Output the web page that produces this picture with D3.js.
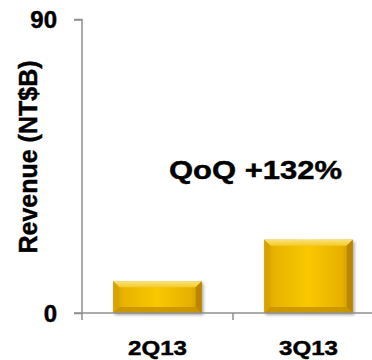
<!DOCTYPE html>
<html>
<head>
<meta charset="utf-8">
<script src="https://cdn.jsdelivr.net/npm/d3@7"></script>
<style>
  html, body { margin: 0; padding: 0; background: #ffffff; }
  svg { display: block; }
  text { font-family: "Liberation Sans", Arial, sans-serif; font-weight: bold; fill: #000; stroke: #000; stroke-width: 0.45px; }
</style>
</head>
<body>
<svg id="chart" width="372" height="360"></svg>
<script>
// Quarterly revenue (NT$ billions)
const quarters = ["2Q13", "3Q13"];
const revenue = [9.7, 22.5];
const yTicks = [0, 90];
const yTitle = "Revenue (NT$B)";
const growthLabel = "QoQ +132%";

const svg = d3.select("#chart");
const W = 372, H = 360;
const plot = { left: 82, right: 384, top: 19.5, bottom: 313 };

const x = d3.scaleBand().domain(quarters).range([plot.left, plot.right]).padding(0);
const y = d3.scaleLinear().domain([0, 90]).range([plot.bottom, plot.top]);
const barW = x.bandwidth() * 0.586;
const axisColor = "#8f8f8f";

const defs = svg.append("defs");
// face: gold, brighter toward the middle
const face = defs.append("linearGradient").attr("id", "face").attr("x1", 0).attr("x2", 1).attr("y1", 0).attr("y2", 0);
[[0, "#d6a000"], [0.12, "#e8b400"], [0.5, "#fac700"], [0.88, "#e6b100"], [1, "#c79300"]]
  .forEach(([o, c]) => face.append("stop").attr("offset", o).attr("stop-color", c));
// bevel faces
const topBevel = defs.append("linearGradient").attr("id", "topBevel").attr("x1", 0).attr("x2", 0).attr("y1", 0).attr("y2", 1);
[[0, "#fbe27a"], [1, "#f3cc2a"]].forEach(([o, c]) => topBevel.append("stop").attr("offset", o).attr("stop-color", c));
const shadow = defs.append("filter").attr("id", "shadow").attr("x", "-10%").attr("y", "-10%").attr("width", "125%").attr("height", "130%");
shadow.append("feDropShadow").attr("dx", 1.5).attr("dy", 2).attr("stdDeviation", 1.6)
  .attr("flood-color", "#000").attr("flood-opacity", 0.35);

// bars with a bevelled edge
const bevel = 6;
const bars = svg.append("g").selectAll("g").data(quarters).join("g")
  .attr("filter", "url(#shadow)");
bars.each(function (q, i) {
  const g = d3.select(this);
  const x0 = x(q) + (x.bandwidth() - barW) / 2, x1 = x0 + barW;
  const y0 = y(revenue[i]), y1 = y(0);
  g.append("rect").attr("x", x0).attr("y", y0).attr("width", barW).attr("height", y1 - y0)
    .attr("fill", "url(#face)");
  const b = Math.min(bevel, (y1 - y0) / 3);
  const pts = p => p.map(d => d.join(",")).join(" ");
  g.append("polygon").attr("points", pts([[x0, y0], [x1, y0], [x1 - b, y0 + b], [x0 + b, y0 + b]]))
    .attr("fill", "url(#topBevel)");
  g.append("polygon").attr("points", pts([[x0, y0], [x0 + b, y0 + b], [x0 + b, y1 - b], [x0, y1]]))
    .attr("fill", "#d8a200").attr("opacity", 0.9);
  g.append("polygon").attr("points", pts([[x1, y0], [x1, y1], [x1 - b, y1 - b], [x1 - b, y0 + b]]))
    .attr("fill", "#b88400").attr("opacity", 0.9);
  g.append("polygon").attr("points", pts([[x0, y1], [x1, y1], [x1 - b, y1 - b], [x0 + b, y1 - b]]))
    .attr("fill", "#c79300").attr("opacity", 0.85);
});

// y axis (line and ticks from d3.axisLeft, labels set explicitly)
const yAxis = svg.append("g").attr("transform", `translate(${plot.left},0)`)
  .call(d3.axisLeft(y).tickValues(yTicks).tickSize(8).tickFormat(""));
yAxis.select(".domain").attr("stroke", axisColor).attr("stroke-width", 1.5).attr("d", `M-8,${plot.top}H0V${plot.bottom}`);
yAxis.selectAll(".tick line").attr("stroke", axisColor).attr("stroke-width", 1.5);
svg.append("g").selectAll("text").data(yTicks).join("text")
  .attr("x", 57).attr("y", d => y(d)).attr("dy", "0.36em")
  .attr("text-anchor", "end")
  .style("font-size", "24px")
  .text(d => d);

// x axis: labels centred in each band, ticks on band boundaries
const xAxis = svg.append("g").attr("transform", `translate(0,${plot.bottom})`)
  .call(d3.axisBottom(x).tickSize(0).tickFormat(""));
xAxis.select(".domain").attr("stroke", axisColor).attr("stroke-width", 1.5).attr("d", `M${plot.left - 8},0H${W}`);
xAxis.selectAll("line.boundary").data(quarters).join("line").attr("class", "boundary")
  .attr("x1", d => x(d)).attr("x2", d => x(d)).attr("y1", 0).attr("y2", 7)
  .attr("stroke", axisColor).attr("stroke-width", 1.5);
svg.append("g").selectAll("text").data(quarters).join("text")
  .attr("x", d => x(d) + x.bandwidth() / 2).attr("y", 355)
  .attr("text-anchor", "middle")
  .style("font-size", "21px")
  .attr("textLength", 59).attr("lengthAdjust", "spacingAndGlyphs")
  .text(d => d);

// axis title
svg.append("text")
  .attr("transform", `translate(37,${(59 + 255) / 2}) rotate(-90)`)
  .attr("text-anchor", "middle").style("font-size", "25px")
  .text(yTitle);

// growth annotation
svg.append("text")
  .attr("x", 169).attr("y", 179)
  .style("font-size", "26px")
  .attr("textLength", 173).attr("lengthAdjust", "spacingAndGlyphs")
  .text(growthLabel);
</script>
</body>
</html>
